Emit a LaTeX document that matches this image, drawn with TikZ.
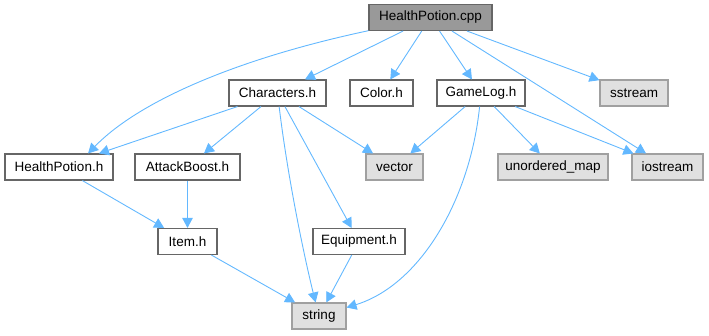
\documentclass[tikz,border=0pt]{standalone}
\usepackage{fontspec}
\setmainfont{Liberation Sans}
\usetikzlibrary{arrows.meta}
\definecolor{Cedgeblue}{HTML}{63B8FF}
\definecolor{Cframe}{HTML}{666666}
\definecolor{Csysframe}{HTML}{A0A0A0}
\definecolor{Csysfill}{HTML}{E0E0E0}
\definecolor{Croot}{HTML}{999999}

\begin{document}
\begin{tikzpicture}[x=1pt,y=-1pt,
		hdr/.style={draw=Cframe,fill=white,line width=1.1pt,minimum height=26pt,inner xsep=2pt,font=\fontsize{13.5}{15}\selectfont},
		sys/.style={hdr,draw=Csysframe,fill=Csysfill},
		inc/.style={draw=Cedgeblue,line width=0.9pt,-{Triangle[length=10pt,width=10.5pt]}}]
	\useasboundingbox (0,0) rectangle (709,336);
	\node[hdr,fill=Croot,minimum width=123] (cpp) at (430.5,17.5) {HealthPotion.cpp};
	\node[hdr,minimum width=97] (chars) at (277.5,93) {Characters.h};
	\node[hdr,minimum width=63] (color) at (381.5,93) {Color.h};
	\node[hdr,minimum width=88] (gamelog) at (481,93) {GameLog.h};
	\node[sys,minimum width=68] (sstream) at (634,93) {sstream};
	\node[hdr,minimum width=108] (hph) at (59,167) {HealthPotion.h};
	\node[hdr,minimum width=105] (boost) at (187.5,167) {AttackBoost.h};
	\node[sys,minimum width=57] (vector) at (394.5,167) {vector};
	\node[sys,minimum width=110] (umap) at (553,167) {unordered\_map};
	\node[sys,minimum width=71] (iostream) at (667.5,167) {iostream};
	\node[hdr,minimum width=59] (item) at (187.5,241.5) {Item.h};
	\node[hdr,minimum width=92] (equip) at (359,241.5) {Equipment.h};
	\node[sys,minimum width=54] (string) at (319,316) {string};

	\draw[inc] (cpp) .. controls (240,58) and (140,100) .. (hph.25);
	\draw[inc] (cpp) -- (chars);
	\draw[inc] (cpp) -- (color);
	\draw[inc] (cpp) -- (gamelog);
	\draw[inc] (cpp) -- (sstream);
	\draw[inc] (cpp) -- (iostream);
	\draw[inc] (chars) -- (hph);
	\draw[inc] (chars) -- (boost);
	\draw[inc] (chars) -- (vector);
	\draw[inc] (chars) -- (equip);
	\draw[inc] (chars) .. controls (288,180) and (305,260) .. (string);
	\draw[inc] (gamelog) -- (vector);
	\draw[inc] (gamelog) .. controls (470,200) and (420,285) .. (string);
	\draw[inc] (gamelog) -- (umap);
	\draw[inc] (gamelog) -- (iostream);
	\draw[inc] (hph) -- (item);
	\draw[inc] (boost) -- (item);
	\draw[inc] (item) -- (string);
	\draw[inc] (equip) -- (string);
\end{tikzpicture}
\end{document}
